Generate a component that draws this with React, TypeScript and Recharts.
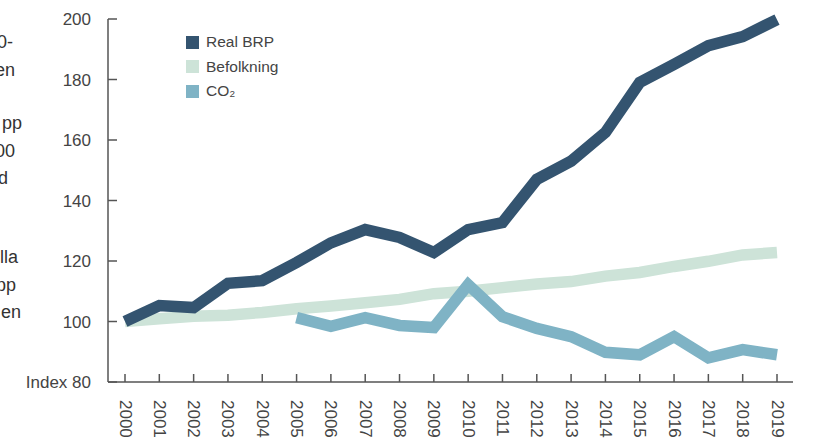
import { LineChart, Line, XAxis, YAxis } from 'recharts';

const years = ['2000', '2001', '2002', '2003', '2004', '2005', '2006', '2007', '2008', '2009',
  '2010', '2011', '2012', '2013', '2014', '2015', '2016', '2017', '2018', '2019'];

const realBrp = [100, 105.3, 104.6, 112.6, 113.5, 119.5, 126, 130.4, 127.8, 122.8,
  130.4, 132.7, 147, 153, 162.5, 179, 185, 191.2, 194.2, 199.8];

const befolkning = [100, 100.9, 101.7, 102.1, 103, 104.2, 105.1, 106.2, 107.3, 109.2,
  110, 111.2, 112.4, 113.2, 115, 116.2, 118.2, 119.9, 122, 122.8];

const co2 = [null, null, null, null, null, 101.3, 98.4, 101.3, 98.7, 98,
  112.2, 101.6, 97.7, 95, 89.8, 89, 95, 88, 90.7, 89];

const yTicks = [80, 100, 120, 140, 160, 180, 200];

// cut-off words from the text column to the left of the figure
const sideText = [
  { t: '0-', right: 13, base: 48 },
  { t: 'en', right: 15, base: 76 },
  { t: 'pp', right: 22, base: 129 },
  { t: '00', right: 15, base: 157 },
  { t: 'd', right: 8, base: 184 },
  { t: 'lla', right: 18, base: 263 },
  { t: 'pp', right: 16, base: 291 },
  { t: 'en', right: 21, base: 318 },
];

const series = [
  { name: 'Real BRP', color: '#345470' },
  { name: 'Befolkning', color: '#cde3d8' },
  { name: 'CO₂', color: '#7fb3c5' },
];

const data = years.map((y, i) => ({ year: y, brp: realBrp[i], bef: befolkning[i], co2: co2[i] }));

const FONT = '"Liberation Sans", Arial, sans-serif';
const AXIS = '#555';

function YTick(props: any) {
  const { x, y, payload } = props;
  const label = payload.value === 80 ? 'Index 80' : String(payload.value);
  return (
    <g>
      <line x1={x + 17} x2={x + 26} y1={y} y2={y} stroke={AXIS} strokeWidth={1.5} />
      <text x={x} y={y} dy={6} textAnchor="end" fontSize={17} fill="#444" fontFamily={FONT}>{label}</text>
    </g>
  );
}

function XTick(props: any) {
  const { x, y, payload } = props;
  return (
    <g>
      <line x1={x} x2={x} y1={y - 18} y2={y - 26} stroke={AXIS} strokeWidth={1.5} />
      <text x={x} y={y} transform={`rotate(90, ${x}, ${y})`} textAnchor="start" dominantBaseline="central"
        fontSize={17} fill="#444" fontFamily={FONT}>{payload.value}</text>
    </g>
  );
}

export default function App() {
  return (
    <div style={{ position: 'absolute', left: 0, top: 0, width: 815, height: 445, background: '#fff', overflow: 'hidden' }}>
      <svg width={815} height={445} style={{ position: 'absolute', left: 0, top: 0 }}>
        {sideText.map((s, i) => (
          <text key={i} x={s.right} y={s.base} textAnchor="end" fontSize={18} fill="#333" fontFamily={FONT}>{s.t}</text>
        ))}
      </svg>
      <div style={{ position: 'absolute', left: 0, top: 0 }}>
        <LineChart width={815} height={445} data={data} margin={{ top: 19, right: 22, bottom: 0, left: 0 }}>
          <XAxis dataKey="year" height={63} padding={{ left: 17, right: 16 }} tickSize={0} tickMargin={18}
            tick={<XTick />} tickLine={false} interval={0} axisLine={{ stroke: AXIS, strokeWidth: 1.5 }} />
          <YAxis domain={[80, 200]} ticks={yTicks} width={108} tickSize={0} tickMargin={17}
            tick={<YTick />} tickLine={false} axisLine={{ stroke: AXIS, strokeWidth: 1.5 }} />
          <Line dataKey="bef" stroke="#cde3d8" strokeWidth={11.5} dot={false} isAnimationActive={false} type="linear" />
          <Line dataKey="co2" stroke="#7fb3c5" strokeWidth={11.5} dot={false} isAnimationActive={false} type="linear" />
          <Line dataKey="brp" stroke="#345470" strokeWidth={11.5} dot={false} isAnimationActive={false} type="linear" />
        </LineChart>
      </div>
      <div style={{ position: 'absolute', left: 186, top: 30, fontFamily: FONT, fontSize: 15.5, color: '#444' }}>
        {series.map((s) => (
          <div key={s.name} style={{ display: 'flex', alignItems: 'center', height: 24.5 }}>
            <span style={{ display: 'inline-block', width: 13, height: 13, background: s.color, marginRight: 7 }} />
            <span>{s.name}</span>
          </div>
        ))}
      </div>
    </div>
  );
}
